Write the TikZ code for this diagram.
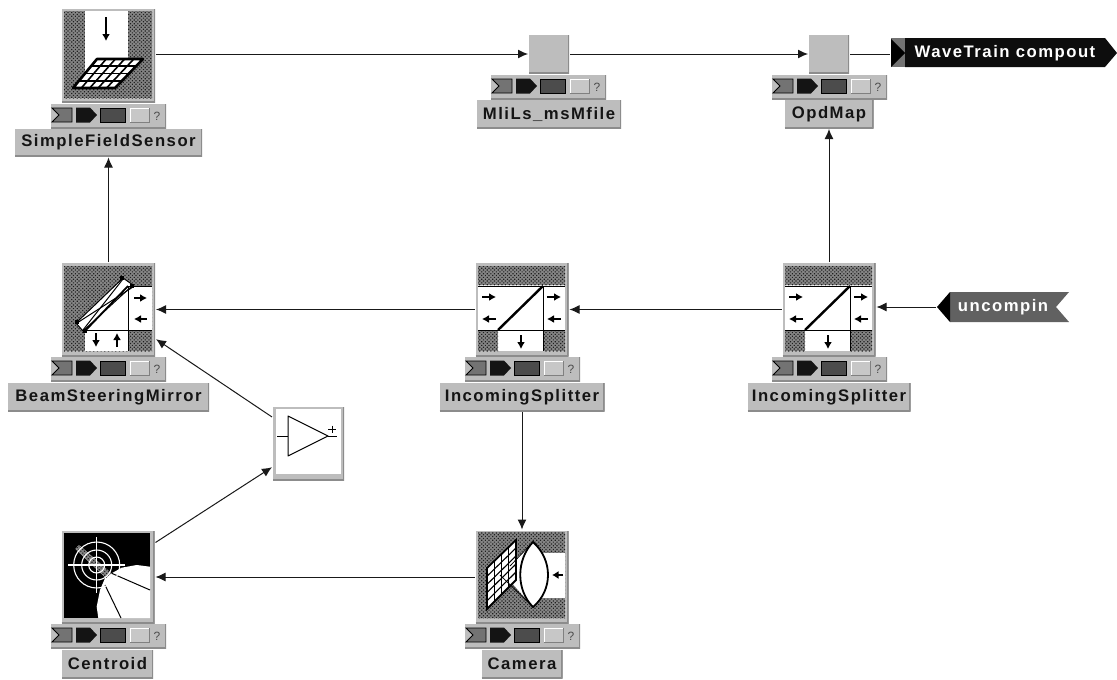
\documentclass[tikz,border=0pt]{standalone}
\usepackage{fontspec}
\setmainfont{Liberation Sans}
\newfontfamily\lblfont[LetterSpace=9]{Liberation Sans Bold}
\usetikzlibrary{arrows.meta,patterns.meta}
\definecolor{panel}{gray}{0.74}
\definecolor{edge}{gray}{0.55}
\tikzset{
  x=1pt,y=-1pt,
  bevelled/.style={fill=panel,inner sep=0pt,outer sep=1pt,path picture={
    \draw[edge,line width=3pt] (path picture bounding box.south west)--(path picture bounding box.south east)--(path picture bounding box.north east);}},
  iconbox/.style={bevelled,minimum width=93pt,minimum height=93pt},
  greybox/.style={bevelled,minimum width=40pt,minimum height=38pt},
  toolbar/.style={bevelled,minimum width=115pt,minimum height=24pt},
  namebox/.style={bevelled,minimum height=28pt,font=\lblfont\fontsize{16.7}{18}\selectfont,text=black!92},
  tagtext/.style={inner sep=0pt,outer sep=1pt,font=\lblfont\fontsize{16.7}{18}\selectfont,text=white,minimum height=29pt},
  dith/.style={preaction={fill=black!48},pattern={Dots[radius=.85pt,distance=2.6pt,angle=45]},pattern color=black!88},
  link/.style={draw=black!90,line width=1pt,-{Latex[length=10pt,width=9pt]}},
  plain/.style={draw=black!90,line width=1pt},
  tinyarrow/.style={line width=1.9pt,-{Latex[length=7pt,width=8pt]}},
}
% toolbar: #1 node name, #2 left, #3 top
\newcommand{\ToolStrip}[3]{%
  \node[toolbar,anchor=north west,outer sep=0pt] (#1) at (#2,#3) {};
  \begin{scope}[shift={(#2,#3)}]
    \filldraw[fill=black!55,draw=black,line width=.9pt] (1,4)--(21,4)--(21,18)--(1,18)--(8,11)--cycle;
    \fill[black!92] (25,3.5)--(39,3.5)--(46,11)--(39,18.5)--(25,18.5)--cycle;
    \filldraw[fill=black!70,draw=black,line width=.9pt] (49,4)--(74,4)--(74,18)--(49,18)--cycle;
    \filldraw[fill=black!22,draw=white,line width=1pt] (79,4)--(98,4)--(98,18)--(79,18)--cycle;
    \draw[black!50,line width=1pt] (79,18)--(98,18)--(98,4);
    \node[inner sep=0pt,text=black!70,font=\fontsize{12}{13}\selectfont] (#1q) at (106,12) {?};
  \end{scope}}
% splitter icon content, origin at icon's top-left
\newcommand{\SplitterArt}[2]{%
  \begin{scope}[shift={(#1,#2)}]
    \fill[white] (2,22) rectangle (89,88);
    \fill[dith] (2,3) rectangle (89,22);
    \fill[dith] (2,67) rectangle (22,88);
    \fill[dith] (67,67) rectangle (89,88);
    \draw[line width=1pt] (2,23)--(89,23);
    \draw[line width=1pt] (2,67)--(89,67);
    \draw[line width=1pt] (67,23)--(67,88);
    \draw[line width=2.4pt] (22,67)--(67,23);
    \draw[tinyarrow] (6,34)--(20,34);
    \draw[tinyarrow] (20,56)--(6,56);
    \draw[tinyarrow] (71,34)--(85,34);
    \draw[tinyarrow] (85,56)--(71,56);
    \draw[tinyarrow] (45,72)--(45,86);
  \end{scope}}
\begin{document}
\begin{tikzpicture}
\useasboundingbox (0,0) rectangle (1117,680);
\fill[white] (0,0) rectangle (1117,680);

% ---- SimpleFieldSensor
\node[iconbox] (sfs) at (108.5,55.5) {};
\fill[dith] (64,11) rectangle (152,98);
\fill[white] (85,11) rectangle (128,72);
\draw[tinyarrow] (106,17)--(106,41);
\filldraw[fill=white,draw=black,line width=2.6pt,line join=round] (97,59)--(143,59)--(115,88)--(73,88)--cycle;
\foreach \t in {.25,.5,.75}{
  \draw[line width=1.6pt] ({97+\t*(73-97)},{59+\t*29})--({143+\t*(115-143)},{59+\t*29});}
\foreach \t in {.2,.4,.6,.8}{
  \draw[line width=1.6pt] ({97+\t*46},59)--({73+\t*42},88);}
\ToolStrip{sfst}{51}{104}
\node[namebox,minimum width=187pt] (sfsn) at (108.5,142.5) {SimpleFieldSensor};

% ---- MliLs_msMfile
\node[greybox] (mli) at (549,54) {};
\ToolStrip{mlit}{491}{75}
\node[namebox,minimum width=144pt] (mlin) at (549,114) {MliLs\_msMfile};

% ---- OpdMap
\node[greybox] (opd) at (829,54) {};
\ToolStrip{opdt}{772}{75}
\node[namebox,minimum width=89pt] (opdn) at (829,114) {OpdMap};

% ---- WaveTrain compout
\fill[black!95] (905,38)--(1105,38)--(1117,53)--(1105,67)--(905,67)--cycle;
\fill[black!55] (891,38)--(905,38)--(905,67)--(891,67)--cycle;
\fill[black] (891,39)--(905,53)--(891,67)--cycle;
\node[tagtext,minimum width=227pt] (wt) at (1004,53) {\hspace*{2pt}WaveTrain compout};

% ---- BeamSteeringMirror
\node[iconbox] (bsm) at (108.5,309.5) {};
\fill[dith] (64,266) rectangle (152,351);
\fill[white] (85,330) -- (128,286) -- (152,286) -- (152,330) -- (128,330) -- (128,351) -- (85,351) -- cycle;
\filldraw[fill=white,draw=black,line width=1pt] (76,323)--(123,278)--(133,285)--(83,331)--cycle;
\draw[line width=1pt] (128,286)--(152,286);
\draw[line width=1pt] (85,330)--(152,330);
\draw[line width=1pt] (128,286)--(128,351);
\draw[line width=1.8pt] (85,331)--(128,286);
\draw[line width=1pt] (77,323)--(133,287);
\draw[line width=1pt] (83,330)--(123,279);
\fill (75,320) rectangle (79,324);
\fill (120,276) rectangle (124,280);
\fill (130,284) rectangle (134,288);
\fill (83,329) rectangle (87,333);
\draw[tinyarrow] (134,298)--(147,298);
\draw[tinyarrow] (147,319)--(134,319);
\draw[tinyarrow] (96,333)--(96,347);
\draw[tinyarrow] (117,347)--(117,333);
\ToolStrip{bsmt}{51}{357}
\node[namebox,minimum width=201pt] (bsmn) at (108.5,397) {BeamSteeringMirror};

% ---- IncomingSplitter (middle)
\node[iconbox] (isa) at (522,309.5) {};
\SplitterArt{476}{263}
\ToolStrip{isat}{465}{357}
\node[namebox,minimum width=165pt] (isan) at (522,397) {IncomingSplitter};

% ---- IncomingSplitter (right)
\node[iconbox] (isb) at (829,309.5) {};
\SplitterArt{783}{263}
\ToolStrip{isbt}{772}{357}
\node[namebox,minimum width=163pt] (isbn) at (829,397) {IncomingSplitter};

% ---- uncompin
\fill[black!62] (950,292)--(1069,292)--(1056,307)--(1069,322)--(950,322)--cycle;
\fill[black] (937,307)--(950,292)--(950,322)--cycle;
\node[tagtext,minimum width=132pt] (unc) at (1003,307) {uncompin};

% ---- amplifier
\node[bevelled,minimum width=71pt,minimum height=73pt] (amp) at (308.5,443.5) {};
\fill[white] (276,409) rectangle (341,474);
\draw[line width=1pt,line join=round] (288,416)--(328,436)--(288,456)--cycle;
\draw[line width=1pt] (277,436)--(288,436);
\draw[line width=1pt] (328,436)--(337,436);
\draw[line width=.9pt] (332,425.5)--(332,433);
\draw[line width=.9pt] (328,429.2)--(336,429.2);

% ---- Centroid
\node[iconbox] (cen) at (108,577) {};
\fill[black] (64,533) rectangle (150,618);
\begin{scope}
  \clip (64,533) rectangle (150,618);
  \fill[white] (111.7,573.3)--(121.7,567.7)--(136.7,565)--(150,566.7)--(150,618)--(98.3,618)--(96.7,606.7)--(100,590)--(105,578.3)--cycle;
  \draw[line width=1pt] (111.7,573.3)--(150,590);
  \draw[line width=1pt] (105,585)--(121,618);
\end{scope}
\fill[white] (75.5,549)--(79,545)--(111,573)--(106,578)--cycle;
\fill[dith] (75.5,549)--(79,545)--(111,573)--(106,578)--cycle;
\draw[white,line width=1.1pt] (96.7,565) circle[radius=8] circle[radius=15] circle[radius=23];
\draw[white,line width=1.1pt] (68,565)--(125,565);
\draw[white,line width=1.1pt] (96.7,537)--(96.7,593);
\ToolStrip{cent}{51}{624}
\node[namebox,minimum width=91pt] (cenn) at (107.5,664) {Centroid};

% ---- Camera
\node[iconbox] (cam) at (522,577) {};
\fill[dith] (478,532) rectangle (565,618);
\fill[white] (535,553) rectangle (565,598);
\fill[white] (533,542)--(512,563)--(512,583)--(533,607)--cycle;
\filldraw[fill=white,draw=black,line width=1.8pt] (487,568)--(516,540)--(516,580)--(487,609)--cycle;
\foreach \t in {.25,.5,.75}{
  \draw[line width=1.1pt] ({487+\t*29},{568-\t*28})--({487+\t*29},{609-\t*29});}
\foreach \t in {.2,.4,.6,.8}{
  \draw[line width=1.1pt] (487,{568+\t*41})--(516,{540+\t*40});}
\draw[line width=.8pt] (533,542)--(510,566);
\draw[line width=.8pt] (533,607)--(500,575);
\filldraw[fill=white,draw=black,line width=1.8pt] (533,542) .. controls (516,560) and (516,590) .. (533,607) .. controls (553,590) and (553,560) .. (533,542) -- cycle;
\draw[line width=2.2pt,-{Latex[length=6.5pt,width=8pt]}] (563,575)--(552,575);
\ToolStrip{camt}{465}{624}
\node[namebox,minimum width=81pt] (camn) at (522,664) {Camera};

% ---- connectors
\draw[link] (sfs.east |- mli.west) -- (mli.west);
\draw[link] (mli.east) -- (opd.west);
\draw[plain] (opd.east) -- (wt.west |- opd.east);
\draw[link] (bsm.north) -- (sfsn.south);
\draw[link] (isa.west) -- (bsm.east);
\draw[link] (isb.west) -- (isa.east);
\draw[link] (unc.west) -- (isb.east |- unc.west);
\draw[link] (isb.north) -- (opdn.south);
\draw[link] (isan.south) -- (cam.north);
\draw[link] (cam.west) -- (cen.east);
\draw[link] (cen.36) -- (amp.213);
\draw[link] (amp.144) -- (bsm.-32);
\end{tikzpicture}
\end{document}
